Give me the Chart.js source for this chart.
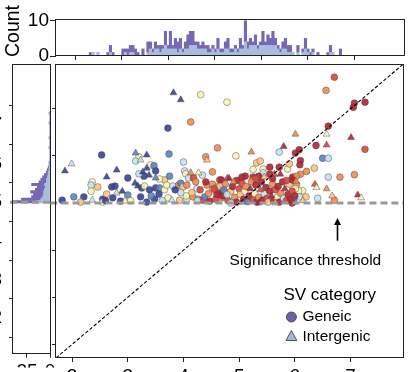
<!DOCTYPE html>
<html><head><meta charset="utf-8">
<script src="https://cdn.jsdelivr.net/npm/chart.js@4.4.1/dist/chart.umd.min.js"></script>
<style>
html,body{margin:0;padding:0;width:408px;height:372px;overflow:hidden;background:#fff}
canvas{position:absolute;left:0;top:0;width:408px;height:372px}
</style></head><body>
<canvas id="topH" width="408" height="372"></canvas>
<canvas id="leftH" width="408" height="372"></canvas>
<canvas id="main" width="408" height="372"></canvas>
<script>
// ---------- data ----------
const AX_MIN = 1.71, AX_MAX = 7.95;           // shared axis range (both axes)
const THRESHOLD = 5.0;                          // significance threshold
const xTickValues = [2, 3, 4, 5, 6, 7];

// colour classes 0..7 (blue -> red)
const palette = ['#38419a', '#5b86c0', '#c3e2ee', '#fcf2b3', '#f9c47f', '#ef8a53', '#d9463a', '#b52130'];

// geneic SVs: [x, y, colourClass]
const geneic = [
 [4.31,7.30,3],[4.78,7.14,3],[4.13,6.72,5],[3.72,6.59,0],[4.61,6.17,5],[2.53,6.02,0],[3.74,6.04,1],
 [3.20,5.98,3],[3.14,5.89,2],[4.40,5.98,5],[4.00,5.87,2],[3.41,5.81,3],[3.47,5.79,1],[4.02,5.68,2],
 [4.04,5.62,3],[4.52,5.66,5],[3.29,5.57,0],[3.20,5.62,2],[3.50,5.68,0],[3.00,5.53,0],[3.66,5.49,4],
 [3.57,5.51,3],[3.75,5.57,1],[4.09,5.53,2],[4.34,5.59,2],[4.18,5.53,6],[4.22,5.45,5],[4.65,5.49,6],
 [2.36,5.45,3],[2.34,5.38,2],[2.46,5.34,4],[2.34,5.25,3],[2.71,5.34,0],[2.77,5.36,0],[3.25,5.32,0],
 [3.30,5.36,3],[3.39,5.28,0],[3.50,5.32,0],[3.57,5.32,1],[3.66,5.28,3],[3.70,5.38,3],[3.81,5.36,2],
 [3.91,5.38,5],[3.95,5.42,1],[3.99,5.34,4],[4.06,5.38,5],[4.24,5.30,2],[4.42,5.38,5],[4.52,5.40,5],
 [4.52,5.28,4],[4.61,5.34,5],[4.63,5.25,6],[4.70,5.25,7],[4.76,5.23,5],[1.82,5.06,0],[2.03,5.13,1],
 [2.21,5.13,0],[2.55,5.08,0],[2.62,5.19,4],[2.55,5.02,3],[2.73,5.11,0],[2.87,5.04,0],[3.00,5.17,1],
 [3.23,5.13,0],[3.48,5.08,0],[3.56,5.19,0],[3.72,5.11,3],[3.93,5.06,4],[4.06,5.08,2],[4.17,5.13,5],
 [4.26,5.08,5],[4.34,5.06,6],[4.38,5.13,1],[4.47,5.04,7],[4.58,5.08,6],[4.69,5.11,5],[3.34,5.02,0],
 [6.71,7.67,6],[6.56,7.39,5],[7.07,7.12,7],[7.05,7.03,7],[7.26,7.14,7],[6.60,6.63,7],[7.26,6.14,6],
 [6.08,6.13,7],[6.01,6.06,7],[6.38,6.22,7],[5.72,6.08,2],[4.94,6.00,3],[6.10,5.90,7],[6.09,5.81,7],
 [6.50,5.95,1],[6.60,5.95,2],[6.35,5.74,4],[6.21,5.67,5],[6.10,5.61,5],[5.31,5.85,4],[5.38,5.89,4],
 [5.25,5.71,3],[5.43,5.72,3],[5.55,5.76,7],[5.72,5.76,7],[5.55,5.61,7],[5.87,5.72,3],[5.90,5.83,4],
 [5.43,5.64,2],[5.11,5.57,7],[5.25,5.55,7],[5.35,5.57,7],[5.96,5.55,7],[6.03,5.57,5],[4.68,5.49,7],
 [4.96,5.48,7],[5.25,5.49,5],[6.60,5.55,2],[6.81,5.55,5],[7.07,5.60,5],[6.03,5.39,5],[6.71,5.06,5],
 [6.41,5.10,2],[6.20,5.13,4],[6.14,5.26,3],[6.07,5.26,3],[6.01,5.30,3],[6.08,5.13,2],
 [4.70,5.15,7],[4.75,5.40,5],[4.80,5.05,6],[4.85,5.25,4],[4.88,5.35,7],[4.92,5.12,5],[4.95,5.02,7],
 [5.00,5.30,6],[5.02,5.18,4],[5.05,5.42,6],[5.08,5.08,7],[5.10,5.25,3],[5.12,5.35,5],[5.15,5.03,1],
 [5.18,5.15,7],[5.22,5.45,5],[5.25,5.08,6],[5.28,5.20,3],[5.30,5.38,7],[5.32,5.02,7],[5.35,5.12,5],
 [5.40,5.45,7],[5.42,5.06,7],[5.45,5.20,2],[5.48,5.33,7],[5.50,5.10,6],[5.52,5.02,4],[5.55,5.25,7],
 [5.60,5.40,5],[5.62,5.05,7],[5.65,5.28,6],[5.68,5.12,3],[5.70,5.35,7],[5.72,5.02,7],[5.75,5.20,5],
 [5.78,5.45,7],[5.80,5.10,2],[5.85,5.05,6],[5.88,5.18,7],[5.90,5.40,4],[5.92,5.08,7],[5.95,5.25,6],
 [5.98,5.03,1],[6.00,5.15,7],[4.60,5.18,7],[4.65,5.35,4],[4.72,5.28,1],[4.78,5.18,2],[5.05,5.55,7],
 [5.30,5.52,6],[5.60,5.52,7],[5.85,5.48,6],[4.85,5.00,2],[5.95,5.00,7],[4.55,5.30,6],[4.45,5.20,5],
 [4.40,5.45,7],[4.30,5.28,6],[4.25,5.05,2],[4.15,5.22,4],[4.05,5.15,3],[3.95,5.22,2],[3.85,5.28,0],
 [3.62,5.05,2],[3.42,5.15,1],[3.05,5.05,3],[2.60,5.05,0],[2.15,5.02,4],[5.96,5.49,7]
];
// intergenic SVs: [x, y, colourClass]
const intergenic = [
 [3.82,7.34,0],[3.95,7.19,0],[3.14,6.06,1],[3.34,6.02,0],[3.23,5.91,2],[4.42,5.91,4],[1.99,5.83,2],
 [1.87,5.68,0],[3.34,5.74,0],[2.80,5.70,0],[3.27,5.66,0],[3.38,5.59,0],[4.13,5.64,5],[4.27,5.64,3],
 [2.62,5.55,0],[3.50,5.53,1],[4.79,5.53,6],[3.13,5.42,0],[3.18,5.36,0],[2.36,5.06,2],[2.80,5.21,2],
 [3.79,5.06,2],[2.95,5.04,3],[6.01,6.46,5],[6.57,6.46,3],[7.01,6.39,7],[5.80,6.20,7],[6.57,6.23,6],
 [5.22,6.08,5],[5.74,5.61,7],[5.63,5.61,6],[4.82,5.52,7],[6.02,5.46,5],[6.36,5.40,6],[6.39,5.33,3],
 [6.57,5.30,5],[7.13,5.17,7],[7.19,5.11,3],[6.67,5.15,4],[6.14,5.05,4],[5.20,5.30,7],[5.38,5.28,6],
 [5.58,5.15,7],[5.82,5.30,7],[4.90,5.45,5],[5.45,5.55,4],[5.05,5.02,6],[5.35,5.00,7],[5.65,5.00,4],
 [2.90,5.25,0]
];

// top histogram (x distribution), stacked counts per bin
const topBinStart = 1.80, topBinWidth = 0.0538;
const topGeneic = [1,0,0,0,0,0,0,1,2,1,0,0,0,2,1,2,2,2,2,1,0,2,0,3,2,1,2,1,2,1,4,1,5,1,3,3,3,1,2,4,4,4,1,2,1,2,1,2,1,1,1,3,1,1,2,3,1,1,1,1,3,1,6,2,2,1,3,1,1,4,1,3,2,4,2,1,1,2,3,2,2,0,0,2,0,1,3,1,1,1,0,1,0,0,0,1,2,0,0,0,2];
const topIntergenic = [0,1,0,1,0,0,0,0,1,0,0,0,0,0,1,0,1,1,0,0,0,0,0,1,2,1,2,2,1,2,3,2,2,2,2,1,2,1,2,2,3,3,3,2,2,2,2,1,1,2,1,2,1,1,2,2,1,1,2,1,2,2,4,2,3,3,3,2,3,3,3,3,3,3,3,2,1,2,2,1,1,1,0,1,0,1,2,1,0,1,0,0,0,0,0,0,1,1,0,0,0];

// left histogram (y distribution), stacked counts per bin
const leftBinStart = 4.98, leftBinWidth = 0.0637;
const leftGeneic = [26,21,12,11,14,10,9,14,8,6,5,4,2,2,1,1,1,0,0,0,0,0,1,0,0,0,1,0,0,0,0,0,1,0,0,0,1];
const leftIntergenic = [14,10,8,7,7,6,5,6,4,4,3,2,2,1,1,0,0,0,0,0,0,0,0,0,0,0,0,0,0,0,0,0,0,0,0,0,0];

const darkPurple = '#7868b4', lightBlue = '#a8bddc';
const FONT = '"Liberation Sans", Arial, Helvetica, sans-serif';
Chart.defaults.font.family = FONT;
Chart.defaults.color = '#000';

// ---------- helpers ----------
function frame(chart, color) {
  const {ctx, chartArea: a} = chart;
  ctx.save();
  ctx.strokeStyle = color || '#222';
  ctx.lineWidth = 1;
  ctx.strokeRect(Math.round(a.left) - 0.5, Math.round(a.top) + 0.5, Math.round(a.right - a.left) + 1, Math.round(a.bottom - a.top) - 1);
  ctx.restore();
}
const tickGrid = len => ({drawOnChartArea: false, drawTicks: true, tickLength: len, tickColor: '#222', lineWidth: 1});

// ---------- top histogram ----------
new Chart(document.getElementById('topH'), {
  type: 'bar',
  data: { datasets: [
    {label: 'Intergenic', data: topIntergenic.map((v, i) => ({x: topBinStart + topBinWidth * (i + 0.5), y: v})), backgroundColor: lightBlue, barPercentage: 1, categoryPercentage: 1},
    {label: 'Geneic', data: topGeneic.map((v, i) => ({x: topBinStart + topBinWidth * (i + 0.5), y: v})), backgroundColor: darkPurple, barPercentage: 1, categoryPercentage: 1}
  ]},
  options: {
    responsive: false, animation: false, events: [],
    layout: {padding: {left: 0, top: 19, right: 4, bottom: 310}},
    plugins: {legend: {display: false}, tooltip: {enabled: false}},
    scales: {
      x: {type: 'linear', stacked: true, min: AX_MIN, max: AX_MAX, afterFit(s) { s.height = 6; },
          afterBuildTicks(s) { s.ticks = xTickValues.map(v => ({value: v})); },
          ticks: {display: false}, grid: tickGrid(4), border: {display: false}},
      y: {stacked: true, min: 0, max: 10.5, afterFit(s) { s.width = 56; },
          afterBuildTicks(s) { s.ticks = [{value: 0}, {value: 10}]; },
          ticks: {font: {size: 19}, padding: 1}, grid: tickGrid(6), border: {display: false}}
    }
  },
  plugins: [{id: 'topDeco', afterDraw(chart) {
    frame(chart);
    const ctx = chart.ctx;
    ctx.save();
    ctx.translate(14, 31);
    ctx.rotate(-Math.PI / 2);
    ctx.font = '19.5px ' + FONT;
    ctx.fillStyle = '#000';
    ctx.textAlign = 'center'; ctx.textBaseline = 'middle';
    ctx.fillText('Count', 0, 0);
    ctx.restore();
  }}]
});

// ---------- left histogram ----------
new Chart(document.getElementById('leftH'), {
  type: 'bar',
  data: { datasets: [
    {label: 'Intergenic', data: leftIntergenic.map((v, i) => ({y: leftBinStart + leftBinWidth * (i + 0.5), x: v})), backgroundColor: lightBlue, barPercentage: 1, categoryPercentage: 1},
    {label: 'Geneic', data: leftGeneic.map((v, i) => ({y: leftBinStart + leftBinWidth * (i + 0.5), x: v})), backgroundColor: darkPurple, barPercentage: 1, categoryPercentage: 1}
  ]},
  options: {
    indexAxis: 'y', responsive: false, animation: false, events: [],
    layout: {padding: {left: 0, top: 64, right: 358, bottom: 0}},
    plugins: {legend: {display: false}, tooltip: {enabled: false}},
    scales: {
      x: {type: 'linear', stacked: true, reverse: true, min: 0, max: 40.2, afterFit(s) { s.height = 14; },
          afterBuildTicks(s) { s.ticks = [{value: 0}, {value: 25}]; },
          ticks: {font: {size: 19}, padding: 3}, grid: tickGrid(4), border: {display: false}},
      y: {type: 'linear', stacked: true, min: AX_MIN, max: AX_MAX, afterFit(s) { s.width = 13; },
          afterBuildTicks(s) { s.ticks = xTickValues.map(v => ({value: v})); },
          ticks: {font: {size: 19}, padding: 7}, grid: tickGrid(4), border: {display: false}}
    }
  },
  plugins: [{id: 'leftDeco', afterDraw(chart) {
    const {ctx, chartArea: a, scales} = chart;
    const y = scales.y.getPixelForValue(THRESHOLD);
    ctx.save();
    ctx.strokeStyle = '#999'; ctx.lineWidth = 3; ctx.setLineDash([7, 4]);
    ctx.beginPath(); ctx.moveTo(a.left - 3, y); ctx.lineTo(a.right + 3, y); ctx.stroke();
    ctx.restore();
    frame(chart);
  }}]
});

// ---------- main scatter ----------
const annotation = {
  arrowX: 6.75, arrowTop: 4.68, arrowBottom: 4.20, labelY: 3.77, labelX: 6.19,
  label: 'Significance threshold', legendTitle: 'SV category', legendItems: ['Geneic', 'Intergenic']
};
new Chart(document.getElementById('main'), {
  type: 'scatter',
  data: { datasets: [
    {type: 'line', label: 'y=x', data: [{x: AX_MIN, y: AX_MIN}, {x: AX_MAX, y: AX_MAX}], borderColor: '#000', borderWidth: 1.1, borderDash: [3.5, 2], pointRadius: 0},
    {type: 'line', label: 'threshold', data: [{x: AX_MIN - 0.1, y: THRESHOLD}, {x: AX_MAX, y: THRESHOLD}], borderColor: '#999', borderWidth: 3, borderDash: [7, 4], pointRadius: 0, clip: 6},
    {label: 'Intergenic', data: intergenic.map(p => ({x: p[0], y: p[1]})), pointStyle: 'triangle', pointRadius: 4,
     backgroundColor: intergenic.map(p => palette[p[2]] + 'e6'), borderColor: 'rgba(70,70,70,0.75)', borderWidth: 0.6},
    {label: 'Geneic', data: geneic.map(p => ({x: p[0], y: p[1]})), pointStyle: 'circle', pointRadius: 3.4,
     backgroundColor: geneic.map(p => palette[p[2]] + 'e6'), borderColor: 'rgba(70,70,70,0.75)', borderWidth: 0.6}
  ]},
  options: {
    responsive: false, animation: false, events: [],
    layout: {padding: {left: 52, top: 64, right: 4, bottom: 0}},
    plugins: {legend: {display: false}, tooltip: {enabled: false}},
    scales: {
      x: {type: 'linear', min: AX_MIN, max: AX_MAX, afterFit(s) { s.height = 14; },
          afterBuildTicks(s) { s.ticks = xTickValues.map(v => ({value: v})); },
          ticks: {font: {size: 19}, padding: 3}, grid: tickGrid(4), border: {display: false}},
      y: {type: 'linear', min: AX_MIN, max: AX_MAX, afterFit(s) { s.width = 4; },
          afterBuildTicks(s) { s.ticks = xTickValues.map(v => ({value: v})); },
          ticks: {display: false}, grid: tickGrid(4), border: {display: false}}
    }
  },
  plugins: [{id: 'mainDeco', afterDraw(chart) {
    frame(chart);
    const {ctx, scales: {x, y}, chartArea: a} = chart;
    ctx.save();
    // arrow
    const ax = Math.round(x.getPixelForValue(annotation.arrowX)) + 0.5;
    const yt = y.getPixelForValue(annotation.arrowTop), yb = y.getPixelForValue(annotation.arrowBottom);
    ctx.strokeStyle = '#000'; ctx.fillStyle = '#000'; ctx.lineWidth = 1.6;
    ctx.beginPath(); ctx.moveTo(ax, yb); ctx.lineTo(ax, yt + 5); ctx.stroke();
    ctx.beginPath(); ctx.moveTo(ax, yt); ctx.lineTo(ax - 3.5, yt + 7); ctx.lineTo(ax + 3.5, yt + 7); ctx.closePath(); ctx.fill();
    // label
    ctx.font = '15.5px ' + FONT; ctx.textAlign = 'center'; ctx.textBaseline = 'middle';
    ctx.fillText(annotation.label, x.getPixelForValue(annotation.labelX), y.getPixelForValue(annotation.labelY));
    // legend
    const lx = a.right - 124;
    ctx.font = '17px ' + FONT; ctx.textAlign = 'left';
    ctx.fillText(annotation.legendTitle, lx + 4, 295);
    ctx.font = '15.5px ' + FONT;
    ctx.fillText(annotation.legendItems[0], lx + 23, 317);
    ctx.fillText(annotation.legendItems[1], lx + 23, 337);
    ctx.lineWidth = 0.8; ctx.strokeStyle = '#333';
    ctx.fillStyle = '#6f62ab';
    ctx.beginPath(); ctx.arc(lx + 12, 317, 5, 0, Math.PI * 2); ctx.fill(); ctx.stroke();
    ctx.fillStyle = '#a3b6d8';
    ctx.beginPath(); ctx.moveTo(lx + 12, 330.5); ctx.lineTo(lx + 6.5, 340.5); ctx.lineTo(lx + 17.5, 340.5); ctx.closePath(); ctx.fill(); ctx.stroke();
    ctx.restore();
  }}]
});
</script></body></html>
